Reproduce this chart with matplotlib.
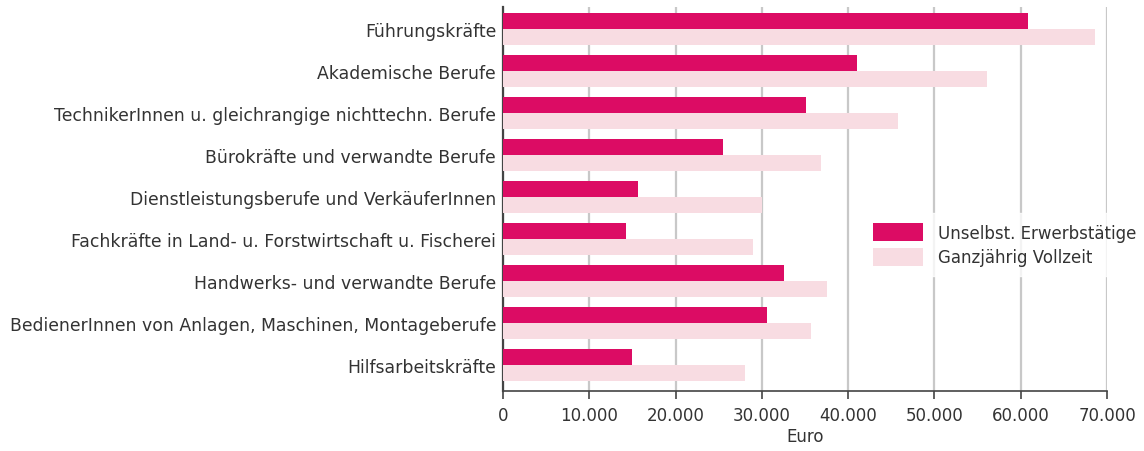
import numpy as np
import matplotlib
matplotlib.use("Agg")
import matplotlib.pyplot as plt
from matplotlib.ticker import FuncFormatter

plt.rcParams["font.family"] = ["DejaVu Sans"]

# --- Daten ---
categories = [
    "Führungskräfte",
    "Akademische Berufe",
    "TechnikerInnen u. gleichrangige nichttechn. Berufe",
    "Bürokräfte und verwandte Berufe",
    "Dienstleistungsberufe und VerkäuferInnen",
    "Fachkräfte in Land- u. Forstwirtschaft u. Fischerei",
    "Handwerks- und verwandte Berufe",
    "BedienerInnen von Anlagen, Maschinen, Montageberufe",
    "Hilfsarbeitskräfte",
]
unselbst = [60900, 41000, 35100, 25500, 15700, 14300, 32600, 30600, 15000]
vollzeit = [68600, 56100, 45800, 36900, 30000, 29000, 37600, 35700, 28100]
series_labels = ["Unselbst. Erwerbstätige", "Ganzjährig Vollzeit"]
x_ticks = [0, 10000, 20000, 30000, 40000, 50000, 60000, 70000]

DARK = "#DC0C64"
LIGHT = "#F8DCE2"
TXT = "#333333"
FS = 12

fig = plt.figure(figsize=(11.44, 4.52), dpi=100)
ax = fig.add_axes([503 / 1144, 1 - 392 / 452, 604 / 1144, 384 / 452])

y = np.arange(len(categories))
h = 0.39
ax.barh(y - h / 2, unselbst, height=h, color=DARK, label=series_labels[0], zorder=3)
ax.barh(y + h / 2, vollzeit, height=h, color=LIGHT, label=series_labels[1], zorder=3)

ax.set_xlim(0, 70000)
ax.set_ylim(len(categories) - 1 + 0.62, -0.525)
ax.set_yticks(y)
ax.set_yticklabels(categories, fontsize=12.4, color=TXT)
ax.tick_params(axis="y", length=0, pad=5)

ax.set_xticks(x_ticks)
ax.xaxis.set_major_formatter(FuncFormatter(lambda v, p: f"{int(v):,}".replace(",", ".")))
ax.tick_params(axis="x", labelsize=FS, labelcolor=TXT, direction="out", length=6,
               width=1.2, color="#444444", pad=5)
ax.set_xlabel("Euro", fontsize=FS, color=TXT, labelpad=2)

ax.grid(axis="x", color="#C8C8C8", linewidth=1.6, zorder=0)
ax.set_axisbelow(True)
for s in ["top", "right"]:
    ax.spines[s].set_visible(False)
ax.spines["left"].set_color("#444444")
ax.spines["left"].set_linewidth(1.6)
ax.spines["bottom"].set_color("#444444")
ax.spines["bottom"].set_linewidth(1.2)

leg = ax.legend(loc="upper left", bbox_to_anchor=(0.583, 0.485), frameon=True,
                fontsize=FS, handlelength=3.0, handleheight=1.3, handletextpad=0.9,
                labelspacing=0.35, borderpad=0.6, fancybox=False)
leg.get_frame().set_facecolor("white")
leg.get_frame().set_edgecolor("white")
for t in leg.get_texts():
    t.set_color(TXT)

fig.savefig("out.png", dpi=100)
